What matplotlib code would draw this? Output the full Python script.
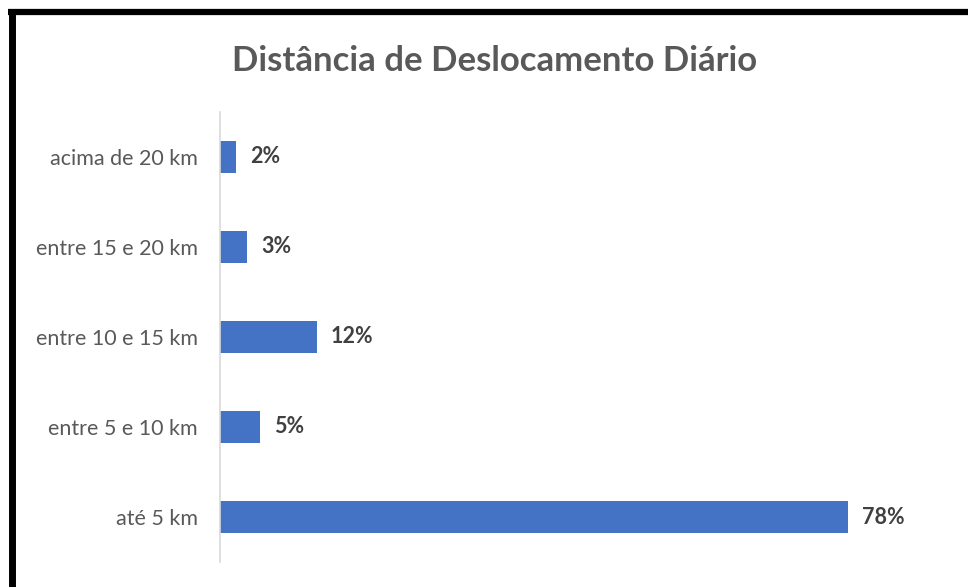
import matplotlib.pyplot as plt
from matplotlib.lines import Line2D

categorias = ['até 5 km', 'entre 5 e 10 km', 'entre 10 e 15 km', 'entre 15 e 20 km', 'acima de 20 km']
valores = [78, 5, 12, 3.4, 2]
rotulos = ['78%', '5%', '12%', '3%', '2%']

plt.rcParams['font.family'] = ['Lato', 'DejaVu Sans']

W, H = 968, 587
fig = plt.figure(figsize=(W / 100, H / 100), dpi=100)
ax = fig.add_axes([220 / W, 1 - 562 / H, 680 / W, 450 / H])

y = range(len(categorias))
ax.barh(y, valores, height=0.35, color='#4472C4')
ax.set_xlim(0, 680 / 8.05)
ax.set_ylim(-0.5, len(categorias) - 0.5)

for yi, v, r in zip(y, valores, rotulos):
    ax.annotate(r, (v, yi), xytext=(14, 0), textcoords='offset pixels',
                va='center', ha='left', fontsize=15.5, fontweight='bold', color='#404040')

ax.set_yticks(list(y))
ax.set_yticklabels(categorias, fontsize=15.5, color='#595959')
ax.tick_params(axis='y', length=0, pad=16)
ax.set_xticks([])
for s in ['top', 'right', 'bottom']:
    ax.spines[s].set_visible(False)
ax.spines['left'].set_color('#D9D9D9')
ax.spines['left'].set_linewidth(1.2)

fig.text(495 / W, 1 - 61 / H, 'Distância de Deslocamento Diário', ha='center', va='center',
         fontsize=25, fontweight='bold', color='#595959')

# moldura preta (topo e esquerda)
fig.add_artist(Line2D([8 / W, 1], [1 - 12 / H, 1 - 12 / H], color='black', lw=4.5,
                      transform=fig.transFigure, solid_capstyle='butt'))
fig.add_artist(Line2D([11.5 / W, 11.5 / W], [1 - 9 / H, 0], color='black', lw=5,
                      transform=fig.transFigure, solid_capstyle='butt'))

fig.savefig('out.png', dpi=100)
